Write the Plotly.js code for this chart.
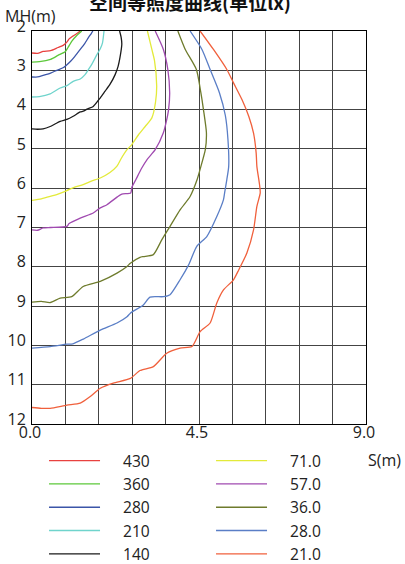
<!DOCTYPE html>
<html><head><meta charset="utf-8">
<script src="https://cdn.plot.ly/plotly-3.0.1.min.js"></script>
<style>html,body{margin:0;padding:0;background:#fff}#chart{width:405px;height:564px}</style>
</head><body><div id="chart"></div><script>
// Isolux curves: distance S (m) vs mounting height MH (m), one curve per illuminance level (lx)
const labels = ['430', '360', '280', '210', '140', '71.0', '57.0', '36.0', '28.0', '21.0'];
const colors = ['#e8413f', '#5cc83a', '#3b55a8', '#6fd4cc', '#1a1a1a', '#e3ea3a', '#a04ab0', '#6e7b2c', '#5a7ec6', '#f0603c'];

const s430  = [0, 0.15, 0.3, 0.5, 0.7, 0.85, 0.95, 1.0, 1.1, 1.2, 1.3];
const mh430 = [2.56, 2.57, 2.52, 2.5, 2.42, 2.36, 2.27, 2.2, 2.13, 2.07, 2.0];

const s360  = [0, 0.2, 0.5, 0.7, 0.9, 0.97, 1.08, 1.2, 1.34];
const mh360 = [2.79, 2.78, 2.72, 2.62, 2.52, 2.42, 2.25, 2.12, 2.0];

const s280  = [0, 0.15, 0.3, 0.5, 0.67, 0.85, 1.04, 1.15, 1.3, 1.42, 1.52, 1.6, 1.64];
const mh280 = [3.17, 3.17, 3.13, 3.07, 3.0, 2.93, 2.77, 2.65, 2.47, 2.32, 2.17, 2.06, 2.0];

const s210  = [0, 0.2, 0.49, 0.76, 0.94, 1.11, 1.3, 1.43, 1.52, 1.61, 1.75, 1.84, 1.9, 1.94];
const mh210 = [3.68, 3.67, 3.6, 3.45, 3.39, 3.28, 3.22, 3.11, 2.98, 2.85, 2.6, 2.45, 2.3, 2.0];

const s140  = [0, 0.15, 0.3, 0.49, 0.76, 0.94, 1.11, 1.3, 1.38, 1.5, 1.65, 1.84, 1.97, 2.1, 2.24, 2.32, 2.37, 2.42, 2.4, 2.36];
const mh140 = [4.49, 4.5, 4.49, 4.43, 4.3, 4.25, 4.17, 4.06, 4.04, 3.98, 3.92, 3.7, 3.53, 3.36, 3.11, 2.9, 2.68, 2.34, 2.15, 2.0];

const s71  = [3.11, 3.23, 3.3, 3.36, 3.33, 3.23, 3.05, 2.87, 2.69, 2.56, 2.4, 2.29, 2.1, 1.84, 1.6, 1.38, 1.15, 0.94, 0.7, 0.49, 0.25, 0];
const mh71 = [2.0, 2.47, 2.75, 3.4, 3.8, 4.21, 4.43, 4.64, 4.89, 5.02, 5.25, 5.44, 5.6, 5.74, 5.82, 5.91, 5.97, 6.06, 6.15, 6.21, 6.27, 6.31];

const s57  = [3.32, 3.54, 3.66, 3.71, 3.68, 3.62, 3.54, 3.32, 3.1, 2.95, 2.8, 2.69, 2.66, 2.42, 2.3, 2.02, 1.84, 1.65, 1.3, 1.0, 0.94, 0.5, 0.3, 0.15, 0];
const mh57 = [2.0, 2.47, 2.98, 3.57, 4.0, 4.3, 4.59, 5.02, 5.27, 5.5, 5.78, 5.98, 6.12, 6.15, 6.22, 6.42, 6.5, 6.63, 6.76, 6.9, 6.97, 7.0, 7.01, 7.07, 7.06];

const s36  = [3.93, 4.13, 4.43, 4.55, 4.62, 4.7, 4.67, 4.55, 4.45, 4.26, 3.99, 3.72, 3.5, 3.27, 3.0, 2.91, 2.65, 2.56, 2.29, 1.84, 1.38, 1.07, 0.76, 0.49, 0.25, 0];
const mh36 = [2.0, 2.47, 2.98, 3.57, 4.0, 4.59, 5.02, 5.45, 5.78, 6.21, 6.55, 6.97, 7.31, 7.69, 7.74, 7.76, 7.91, 7.99, 8.16, 8.37, 8.5, 8.76, 8.8, 8.91, 8.88, 8.9];

const s28  = [4.26, 4.58, 4.8, 5.05, 5.21, 5.28, 5.3, 5.25, 5.19, 5.16, 4.98, 4.71, 4.44, 4.22, 3.99, 3.72, 3.54, 3.18, 3.0, 2.65, 2.56, 2.29, 1.84, 1.38, 1.1, 0.94, 0.49, 0];
const mh28 = [2.0, 2.47, 2.98, 3.57, 4.15, 4.76, 5.45, 5.78, 6.12, 6.29, 6.72, 7.23, 7.48, 7.95, 8.33, 8.71, 8.76, 8.77, 8.97, 9.18, 9.27, 9.43, 9.61, 9.84, 9.96, 9.97, 10.03, 10.07];

const s21  = [4.53, 4.89, 5.25, 5.43, 5.66, 5.84, 5.97, 6.04, 6.06, 6.13, 6.15, 6.06, 5.97, 5.79, 5.57, 5.43, 5.16, 4.98, 4.8, 4.53, 4.31, 3.99, 3.63, 3.27, 2.91, 2.65, 2.19, 1.84, 1.57, 1.3, 0.94, 0.49, 0.25, 0];
const mh21 = [2.0, 2.47, 2.98, 3.32, 3.75, 4.17, 4.6, 5.1, 5.45, 5.9, 6.12, 6.46, 7.06, 7.65, 8.08, 8.33, 8.59, 8.92, 9.43, 9.65, 10.03, 10.07, 10.2, 10.54, 10.64, 10.84, 10.96, 11.09, 11.3, 11.47, 11.52, 11.6, 11.6, 11.58];

const sSeries  = [s430, s360, s280, s210, s140, s71, s57, s36, s28, s21];
const mhSeries = [mh430, mh360, mh280, mh210, mh140, mh71, mh57, mh36, mh28, mh21];

const FONT = '"Open Sans", "Noto Sans", sans-serif';

const traces = labels.map((name, i) => ({
  type: 'scatter',
  mode: 'lines',
  name: name,
  x: sSeries[i],
  y: mhSeries[i],
  line: { color: colors[i], width: 1.3, shape: 'spline', smoothing: 0.6 },
  legend: i < 5 ? 'legend' : 'legend2',
  hoverinfo: 'skip'
}));

const gridCol = '#444';
const legendBase = {
  orientation: 'v', xanchor: 'left', yanchor: 'top',
  bgcolor: 'rgba(0,0,0,0)', borderwidth: 0,
  font: { family: FONT, size: 15.6, color: '#222' },
  itemwidth: 69, tracegroupgap: 0
};

const layout = {
  width: 405, height: 564,
  margin: { l: 32, r: 39, t: 31, b: 140, pad: 0, autoexpand: false },
  paper_bgcolor: '#fff', plot_bgcolor: '#fff',
  font: { family: FONT, size: 16, color: '#222' },
  showlegend: true,
  xaxis: {
    range: [0, 9], tick0: 0, dtick: 4.5, tickformat: '.1f',
    showgrid: true, gridcolor: gridCol, gridwidth: 1,
    minor: { tick0: 0, dtick: 0.9, showgrid: true, gridcolor: gridCol, gridwidth: 1 },
    showline: true, mirror: true, linecolor: '#000', linewidth: 1,
    zeroline: false, ticks: '', ticklabelshift: -2, ticklabelstandoff: -6,
    tickfont: { family: FONT, size: 16, color: '#222' }
  },
  yaxis: {
    range: [12, 2], tick0: 2, dtick: 1,
    showgrid: true, gridcolor: gridCol, gridwidth: 1,
    showline: true, mirror: true, linecolor: '#000', linewidth: 1,
    zeroline: false, ticks: '', ticklabelshift: 5, ticklabelstandoff: 2,
    tickfont: { family: FONT, size: 16, color: '#222' }
  },
  legend: Object.assign({}, legendBase, { x: 0.036, y: -0.051 }),
  legend2: Object.assign({}, legendBase, { x: 0.536, y: -0.051 }),
  annotations: [
    { text: '空间等照度曲线(单位lx)', xref: 'paper', yref: 'paper', x: 0.473, y: 1.076,
      xanchor: 'center', yanchor: 'middle', showarrow: false,
      font: { family: '"Noto Sans CJK SC", sans-serif', size: 19, color: '#111', weight: 'bold' } },
    { text: 'MH(m)', xref: 'paper', yref: 'paper', x: -0.087, y: 1.038,
      xanchor: 'left', yanchor: 'middle', showarrow: false,
      font: { family: FONT, size: 16, color: '#222' } },
    { text: 'S(m)', xref: 'paper', yref: 'paper', x: 1.0, y: -0.092,
      xanchor: 'left', yanchor: 'middle', showarrow: false,
      font: { family: FONT, size: 16, color: '#222' } }
  ]
};

Plotly.newPlot('chart', traces, layout, { staticPlot: true, displayModeBar: false }).then(gd => {
  // longer legend line samples
  gd.querySelectorAll('.legendlines path').forEach(p => p.setAttribute('d', 'M5,0h51'));
});
</script></body></html>
